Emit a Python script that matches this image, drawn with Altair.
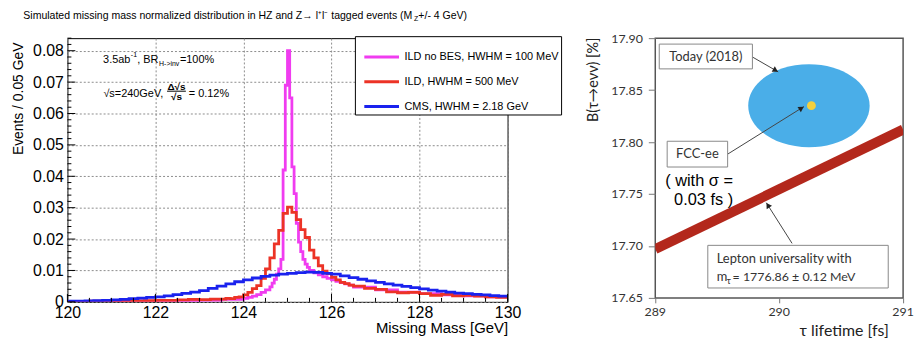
import altair as alt
import pandas as pd

# ---------------- left panel: missing-mass histograms (Events / 0.05 GeV) ----------------
LABEL_MAG = "ILD no BES, HWHM = 100 MeV"
LABEL_RED = "ILD, HWHM = 500 MeV"
LABEL_BLUE = "CMS, HWHM = 2.18 GeV"
SERIES = [LABEL_MAG, LABEL_RED, LABEL_BLUE]
SERIES_COLORS = ["#f03cf0", "#ec3326", "#1a22ee"]

MAG_EDGES = [120.0, 120.5, 121.0, 121.5, 122.0, 122.5, 123.0, 123.5, 124.0,
             124.1, 124.2, 124.3, 124.4, 124.5, 124.6,
             124.65, 124.7, 124.75, 124.8, 124.85, 124.9, 124.95, 125.0, 125.05,
             125.1, 125.15, 125.2, 125.25, 125.3, 125.35, 125.4, 125.45, 125.5,
             125.6, 125.7, 125.8, 125.9, 126.0, 126.1, 126.2, 126.3, 126.4, 126.5,
             127.0, 127.5, 128.0, 128.5, 129.0, 129.5, 130.0]
MAG_VALUES = [0.0001, 0.0001, 0.0001, 0.0002, 0.0002, 0.0003, 0.0005, 0.0008,
              0.0011, 0.0014, 0.0018, 0.0023, 0.0030, 0.0038,
              0.0048, 0.0060, 0.0072, 0.0088, 0.0105, 0.0135, 0.0420, 0.0690, 0.0800,
              0.0650, 0.0430, 0.0345, 0.0250, 0.0190, 0.0160, 0.0135, 0.0120, 0.0110,
              0.0100, 0.0092, 0.0086, 0.0080, 0.0075, 0.0070, 0.0065, 0.0061, 0.0057, 0.0053,
              0.0047, 0.0038, 0.0031, 0.0026, 0.0022, 0.0019, 0.0016]

RED_EDGES = [120.0, 120.25, 120.5, 120.75, 121.0, 121.25, 121.5, 121.75, 122.0, 122.25,
             122.5, 122.75, 123.0, 123.25, 123.5,
             123.6, 123.7, 123.8, 123.9, 124.0, 124.1, 124.2, 124.3, 124.4, 124.5,
             124.6, 124.7, 124.8, 124.9, 125.0, 125.1, 125.2, 125.3, 125.4, 125.5,
             125.6, 125.7, 125.8, 125.9, 126.0, 126.1, 126.2, 126.3, 126.4, 126.5,
             126.75, 127.0, 127.25, 127.5, 127.75, 128.0, 128.25, 128.5, 128.75,
             129.0, 129.25, 129.5, 129.75, 130.0]
RED_VALUES = [0.0001, 0.0001, 0.0002, 0.0002, 0.0002, 0.0003, 0.0003, 0.0004, 0.0005, 0.0005,
              0.0006, 0.0008, 0.0007, 0.0009,
              0.0009, 0.0011, 0.0010, 0.0014, 0.0016, 0.0022, 0.0030, 0.0042, 0.0052, 0.0075,
              0.0105, 0.0140, 0.0185, 0.0228, 0.0282, 0.0302, 0.0285, 0.0262, 0.0230, 0.0205,
              0.0165, 0.0140, 0.0115, 0.0098, 0.0090, 0.0078, 0.0070, 0.0062, 0.0058, 0.0053,
              0.0050, 0.0043, 0.0040, 0.0032, 0.0029, 0.0030, 0.0026, 0.0021, 0.0024, 0.0019,
              0.0021, 0.0018, 0.0016, 0.0014]

BLUE_EDGES = [120.0, 120.2, 120.4, 120.6, 120.8, 121.0, 121.2, 121.4, 121.6, 121.8,
              122.0, 122.2, 122.4, 122.6, 122.8, 123.0, 123.2, 123.4, 123.6, 123.8,
              124.0, 124.2, 124.4, 124.6, 124.8, 125.0, 125.2, 125.4, 125.6, 125.8,
              126.0, 126.2, 126.4, 126.6, 126.8, 127.0, 127.2, 127.4, 127.6, 127.8,
              128.0, 128.2, 128.4, 128.6, 128.8, 129.0, 129.2, 129.4, 129.6, 129.8, 130.0]
BLUE_VALUES = [0.0002, 0.0002, 0.0003, 0.0004, 0.0005, 0.0006, 0.0008, 0.0010, 0.0012, 0.0014,
               0.0016, 0.0019, 0.0023, 0.0027, 0.0031, 0.0036, 0.0043, 0.0050, 0.0057, 0.0064,
               0.0070, 0.0076, 0.0081, 0.0085, 0.0088, 0.0091, 0.0093, 0.0095, 0.0094, 0.0091,
               0.0088, 0.0083, 0.0077, 0.0072, 0.0067, 0.0062, 0.0057, 0.0053, 0.0049, 0.0045,
               0.0041, 0.0037, 0.0034, 0.0031, 0.0028, 0.0026, 0.0024, 0.0022, 0.0020, 0.0018]

X_TICKS = [120, 122, 124, 126, 128, 130]
X_MINOR = [120.5, 121, 121.5, 122.5, 123, 123.5, 124.5, 125, 125.5, 126.5, 127, 127.5,
           128.5, 129, 129.5]
Y_TICKS = [0, 0.01, 0.02, 0.03, 0.04, 0.05, 0.06, 0.07, 0.08]
Y_MINOR = [round(0.002 * i, 3) for i in range(1, 43) if i % 5]

# ---------------- right panel: tau lifetime vs leptonic BR ----------------
TAU_TICKS = [289, 290, 291]
BR_TICKS = [17.65, 17.70, 17.75, 17.80, 17.85, 17.90]
UNIV_TAU = [289.0, 291.0]
UNIV_BR = [17.697, 17.812]
TODAY_TAU, TODAY_BR = 290.24, 17.835
TODAY_DTAU, TODAY_DBR = 0.49, 0.040
FCC_TAU, FCC_BR = 290.26, 17.835

FONT_L = "Liberation Sans"
FONT_R = "Lato"
ONE = pd.DataFrame({"k": [0]})

# canvas geometry (pixels)
LEFT_X0, TOP_Y0 = 67, 36
TOTAL_W, TOTAL_H = 915, 339


def txt(s, x, y, size, font=FONT_L, align="left", color="black", weight="normal"):
    return alt.Chart(ONE).mark_text(text=s, align=align, baseline="middle", font=font,
                                    fontSize=size, fontWeight=weight, color=color).encode(
        x=alt.value(x), y=alt.value(y))


def seg(x1, y1, x2, y2, color="black", width=1):
    return alt.Chart(ONE).mark_rule(color=color, strokeWidth=width).encode(
        x=alt.value(x1), y=alt.value(y1), x2=alt.value(x2), y2=alt.value(y2))


def box(x1, y1, x2, y2, stroke="#888888", fill="white", width=1):
    return alt.Chart(ONE).mark_rect(fill=fill, stroke=stroke, strokeWidth=width).encode(
        x=alt.value(x1), x2=alt.value(x2), y=alt.value(y1), y2=alt.value(y2))


def corner(x, y):
    # 1px white anchor that pins the canvas bounds
    return alt.Chart(ONE).mark_rect(color="white").encode(
        x=alt.value(x), x2=alt.value(x + 1), y=alt.value(y), y2=alt.value(y + 1))


def head(x, y, angle, color="#333333"):
    return alt.Chart(ONE).mark_point(shape="triangle-right", size=40, filled=True, color=color,
                                     opacity=1, angle=angle).encode(x=alt.value(x), y=alt.value(y))


# ======================= LEFT PANEL =======================
LW, LH = 444, 266
xs = alt.Scale(domain=[120, 130], nice=False, zero=False)
ys = alt.Scale(domain=[0, 0.084], nice=False, zero=False)
cscale = alt.Scale(domain=SERIES, range=SERIES_COLORS)

x_axis = alt.Axis(values=X_TICKS, format="d", ticks=False, domain=False, grid=True,
                  gridDash=[2, 2], gridColor="#8c8c8c", gridWidth=1, labelFont=FONT_L,
                  labelFontSize=16, labelColor="black", labelPadding=3, labelFlush=False,
                  labelOverlap=False,
                  title="Missing Mass [GeV]", titleFont=FONT_L, titleFontSize=15,
                  titleFontWeight="normal", titleColor="black", titleX=LW, titleY=26,
                  titleAlign="right", titleBaseline="middle")
y_axis = alt.Axis(values=Y_TICKS, labelExpr="datum.value == 0 ? '0' : format(datum.value, '.2f')",
                  ticks=False, domain=False, grid=True, gridDash=[2, 2], gridColor="#8c8c8c",
                  gridWidth=1, labelFont=FONT_L, labelFontSize=16, labelColor="black",
                  labelPadding=4, labelOverlap=False, title="Events / 0.05 GeV", titleFont=FONT_L,
                  titleFontSize=14, titleFontWeight="normal", titleColor="black", titleX=-49,
                  titleY=4, titleAlign="right", titleAngle=270, titleBaseline="middle")
legend = alt.Legend(orient="none", legendX=290, legendY=-2, title=None, symbolType="stroke",
                    symbolSize=1225, symbolStrokeWidth=3, labelFont=FONT_L, labelFontSize=11,
                    labelColor="black", labelLimit=400, strokeColor="black", fillColor="white",
                    padding=2, symbolOffset=6, labelOffset=4, rowPadding=0)


def hist(edges, values, label, guides):
    df = pd.DataFrame({"mass": list(edges), "events": list(values) + [values[-1]], "series": label})
    return alt.Chart(df).mark_line(interpolate="step-after", strokeWidth=2.8, clip=True).encode(
        x=alt.X("mass:Q", scale=xs, axis=x_axis),
        y=alt.Y("events:Q", scale=ys, axis=y_axis),
        color=alt.Color("series:N", scale=cscale, legend=legend if guides else None),
    )


def xtick(vals, length):
    return alt.Chart(pd.DataFrame({"mass": vals})).mark_rule(color="black", strokeWidth=1).encode(
        x=alt.X("mass:Q", scale=xs, axis=x_axis), y=alt.value(LH), y2=alt.value(LH - length))


def ytick(vals, length):
    return alt.Chart(pd.DataFrame({"events": vals})).mark_rule(color="black", strokeWidth=1).encode(
        y=alt.Y("events:Q", scale=ys, axis=y_axis), x=alt.value(0), x2=alt.value(length))


left_layers = [
    corner(-LEFT_X0, -TOP_Y0),
    hist(MAG_EDGES, MAG_VALUES, LABEL_MAG, True),
    hist(RED_EDGES, RED_VALUES, LABEL_RED, False),
    hist(BLUE_EDGES, BLUE_VALUES, LABEL_BLUE, False),
    xtick(X_TICKS, 8), xtick(X_MINOR, 4), ytick(Y_TICKS, 8), ytick(Y_MINOR, 4),
    # title
    txt("Simulated missing mass normalized distribution in HZ and Z\u2192 l\u207al\u207b tagged events (M",
        -44.5, -22, 10.6),
    txt("Z", 349.5, -19, 7),
    txt("+/- 4 GeV)", 354, -22, 10.6),
    # annotation line 1
    txt("3.5ab", 36, 22, 11), txt("-1", 64, 17.5, 7), txt(", BR", 70.5, 22, 11),
    txt("H->inv", 92.5, 26.5, 7), txt("=100%", 113.5, 22, 11),
    # annotation line 2
    txt("\u221as=240GeV,", 36.3, 56.5, 11),
    txt("\u0394\u221as", 110, 49.5, 10, align="center", weight="bold"),
    seg(100.5, 53.5, 119.5, 53.5),
    txt("\u221as", 110, 59, 10, align="center", weight="bold"),
    txt("= 0.12%", 122.5, 56.5, 11),
]
left = alt.layer(*left_layers).properties(width=LW, height=LH,
                                          view=alt.ViewBackground(stroke="black", strokeWidth=1))

# ======================= RIGHT PANEL =======================
RW, RH = 250, 262
SPACING = 149
txs = alt.Scale(domain=[289, 291], nice=False, zero=False)
tys = alt.Scale(domain=[17.65, 17.90], nice=False, zero=False)

tx_axis = alt.Axis(values=TAU_TICKS, labels=False, domain=False, grid=False, tickSize=5,
                   tickColor="#777777",
                   title="\u03c4 lifetime [fs]", titleFont=FONT_R,
                   titleFontSize=16, titleFontWeight="normal", titleColor="#222222", titleX=235,
                   titleY=33, titleAlign="right", titleBaseline="middle")
ty_axis = alt.Axis(values=BR_TICKS, format=".2f", domain=False, grid=False, tickSize=7,
                   tickColor="#777777", labelFont=FONT_R, labelFontSize=12.5, labelColor="#333333",
                   labelPadding=6, labelOverlap=False, title="B(\u03c4\u2192e\u03bd\u03bd) [%]",
                   titleFont=FONT_R, titleFontSize=14.5, titleFontWeight="normal",
                   titleColor="#222222", titleX=-62, titleY=-1, titleAlign="right",
                   titleAngle=270, titleBaseline="middle")

univ = alt.Chart(pd.DataFrame({"tau": UNIV_TAU, "br": UNIV_BR})).mark_line(
    color="#b3281c", strokeWidth=10, clip=True, strokeCap="butt").encode(
    x=alt.X("tau:Q", scale=txs, axis=tx_axis), y=alt.Y("br:Q", scale=tys, axis=ty_axis))

tau_labels = alt.Chart(pd.DataFrame({"tau": TAU_TICKS})).mark_text(
    baseline="middle", align="center", font=FONT_R, fontSize=12.5, color="#333333").encode(
    x=alt.X("tau:Q", scale=txs, axis=tx_axis), y=alt.value(RH + 14),
    text=alt.Text("tau:Q", format="d"))

rx_px = TODAY_DTAU * RW / 2.0
ry_px = TODAY_DBR * RH / 0.25
ratio = ry_px / rx_px
ELLIPSE = f"M -1 0 A 1 {ratio:.4f} 0 1 1 1 0 A 1 {ratio:.4f} 0 1 1 -1 0 Z"
today = alt.Chart(pd.DataFrame({"tau": [TODAY_TAU], "br": [TODAY_BR]})).mark_point(
    shape=ELLIPSE, size=(2 * rx_px) ** 2, filled=True, color="#4aaee8", opacity=1,
    strokeWidth=0).encode(x=alt.X("tau:Q", scale=txs, axis=tx_axis),
                          y=alt.Y("br:Q", scale=tys, axis=ty_axis))
fcc = alt.Chart(pd.DataFrame({"tau": [FCC_TAU], "br": [FCC_BR]})).mark_circle(
    size=80, color="#f4d03f", opacity=1).encode(
    x=alt.X("tau:Q", scale=txs, axis=tx_axis), y=alt.Y("br:Q", scale=tys, axis=ty_axis))

right_x_end = TOTAL_W - (LEFT_X0 + LW + SPACING) - 1
right_layers = [
    corner(right_x_end, TOTAL_H - TOP_Y0 - 1),
    today, fcc, univ, tau_labels,
    seg(98, 19, 124, 34, "#444444"), head(121.4, 32.5, 30, "#222222"),
    seg(73, 117, 150, 69, "#444444"), head(147.5, 70.6, 328, "#222222"),
    seg(138, 207, 112, 166, "#444444"), head(113.6, 168.5, 237.6, "#222222"),
    box(4, 6, 98, 31), txt("Today (2018)", 51, 19, 13, font=FONT_R, align="center", color="#333333"),
    box(12, 104, 73, 130), txt("FCC-ee", 42.5, 117, 13, font=FONT_R, align="center", color="#333333"),
    txt("( with \u03c3 =", 10, 144, 16.5), txt("0.03 fs )", 19, 163, 16.5),
    box(53, 209, 235, 252),
    txt("Lepton universality with", 62, 223, 13, font=FONT_R, color="#333333"),
    txt("m", 62, 241, 13, font=FONT_R, color="#333333"),
    txt("\u03c4", 72, 245, 9, font=FONT_R, color="#333333"),
    txt("= 1776.86 \u00b1 0.12 MeV", 78, 241, 12.5, font=FONT_R, color="#333333"),
]
right = alt.layer(*right_layers).properties(width=RW, height=RH,
                                            view=alt.ViewBackground(stroke="#555555", strokeWidth=1.5))

chart = alt.hconcat(left, right, spacing=SPACING, bounds="flush").properties(
    padding=0,
    autosize=alt.AutoSizeParams(type="pad"),
).configure(background="white")

chart.save("out.html", embed_options={"renderer": "svg", "actions": False})
